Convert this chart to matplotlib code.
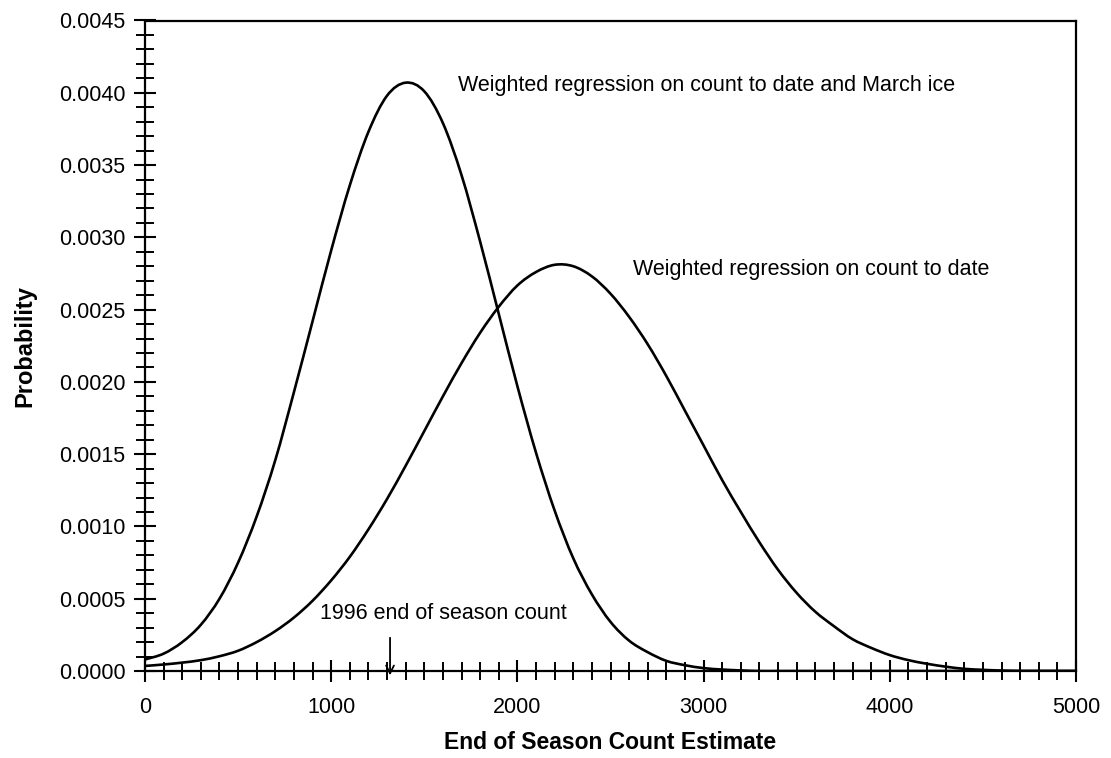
import matplotlib
matplotlib.use("Agg")
import matplotlib.pyplot as plt
from matplotlib.path import Path
from matplotlib.patches import PathPatch
from matplotlib.ticker import MultipleLocator, FormatStrFormatter

plt.rcParams['font.family'] = ['Liberation Sans', 'DejaVu Sans']

# x grid (count estimate) at which the curves were read
count_x = [0, 100, 200, 300, 400, 500, 600, 700, 800, 900,
           1000, 1100, 1200, 1300, 1400, 1500, 1600, 1700, 1800, 1900,
           2000, 2100, 2200, 2300, 2400, 2500, 2600, 2700, 2800, 2900,
           3000, 3100, 3200, 3300, 3400, 3500, 3600, 3700, 3800, 3900,
           4000, 4100, 4200, 4300, 4400, 4500, 4600, 4700, 4800, 4900, 5000]

# Weighted regression on count to date and March ice
prob_march_ice = [0.00008, 0.00012, 0.00020, 0.00032, 0.00050, 0.00075, 0.00107, 0.00146, 0.00193, 0.00242,
                  0.00291, 0.00336, 0.00373, 0.00398, 0.00407, 0.00401, 0.00379, 0.00343, 0.00297, 0.00247,
                  0.00197, 0.00151, 0.00111, 0.00078, 0.00053, 0.00034, 0.00021, 0.00013, 0.00007, 0.00004,
                  0.00002, 0.00001, 0.000004, 0.0, 0.0, 0.0, 0.0, 0.0, 0.0, 0.0,
                  0.0, 0.0, 0.0, 0.0, 0.0, 0.0, 0.0, 0.0, 0.0, 0.0, 0.0]

# Weighted regression on count to date
prob_count_to_date = [0.000035, 0.000045, 0.000058, 0.000075, 0.000102, 0.00014, 0.00020, 0.000276, 0.00037, 0.000486,
                      0.000627, 0.00079, 0.00098, 0.00119, 0.00142, 0.00166, 0.00190, 0.00213, 0.00234, 0.00252,
                      0.002667, 0.00276, 0.00281, 0.00280, 0.00273, 0.00261, 0.00245, 0.00226, 0.00204, 0.00180,
                      0.00156, 0.00132, 0.00110, 0.00089, 0.00070, 0.00054, 0.00041, 0.00031, 0.00022, 0.00016,
                      0.00011, 0.000075, 0.00005, 0.00003, 0.000015, 0.000008, 0.000003, 0.0, 0.0, 0.0, 0.0]

count_1996 = 1316

label_march = "Weighted regression on count to date and March ice"
label_date = "Weighted regression on count to date"
label_1996 = "1996 end of season count"


def smooth_path(xs, ys):
    """Excel-style smoothed line: Catmull-Rom segments drawn as cubic Beziers."""
    pts = list(zip(xs, ys))
    n = len(pts)
    verts = [pts[0]]
    codes = [Path.MOVETO]
    for i in range(n - 1):
        p0 = pts[i - 1] if i > 0 else pts[i]
        p1 = pts[i]
        p2 = pts[i + 1]
        p3 = pts[i + 2] if i + 2 < n else pts[i + 1]
        c1 = (p1[0] + (p2[0] - p0[0]) / 6, p1[1] + (p2[1] - p0[1]) / 6)
        c2 = (p2[0] - (p3[0] - p1[0]) / 6, p2[1] - (p3[1] - p1[1]) / 6)
        verts += [c1, c2, p2]
        codes += [Path.CURVE4, Path.CURVE4, Path.CURVE4]
    return Path(verts, codes)


fig = plt.figure(figsize=(11.11, 7.58), dpi=100)
ax = fig.add_axes([145/1111, 1-671/758, (1076-145)/1111, (671-20.5)/758])

for series in (prob_march_ice, prob_count_to_date):
    ax.add_patch(PathPatch(smooth_path(count_x, series), facecolor='none',
                           edgecolor='black', lw=1.9, joinstyle='round'))

ax.set_xlim(0, 5000)
ax.set_ylim(0, 0.0045)

ax.xaxis.set_major_locator(MultipleLocator(1000))
ax.xaxis.set_minor_locator(MultipleLocator(100))
ax.yaxis.set_major_locator(MultipleLocator(0.0005))
ax.yaxis.set_minor_locator(MultipleLocator(0.0001))
ax.yaxis.set_major_formatter(FormatStrFormatter('%.4f'))

ax.tick_params(axis='both', which='major', direction='inout', length=16, width=1.5,
               labelsize=15.5, colors='black')
ax.tick_params(axis='both', which='minor', direction='inout', length=13, width=1.4)
ax.tick_params(axis='x', which='major', pad=11)
ax.tick_params(axis='y', which='major', pad=6)
ax.tick_params(top=False, right=False, which='both')

for s in ax.spines.values():
    s.set_linewidth(1.6)
    s.set_color('black')

ax.set_xlabel("End of Season Count Estimate", fontsize=16.5, fontweight='bold', labelpad=9)
ax.set_ylabel("Probability", fontsize=17, fontweight='bold', labelpad=16)

ax.text(1681, 0.00405, label_march, fontsize=15.5, ha='left', va='center')
ax.text(2621, 0.002777, label_date, fontsize=15.5, ha='left', va='center')
ax.text(940, 0.000401, label_1996, fontsize=15.5, ha='left', va='center')

ax.annotate('', xy=(count_1996, -0.00003), xytext=(count_1996, 0.00023),
            arrowprops=dict(arrowstyle='->', color='black', lw=1.3,
                            shrinkA=0, shrinkB=0, mutation_scale=14),
            annotation_clip=False)

fig.savefig("out.png", dpi=100)
